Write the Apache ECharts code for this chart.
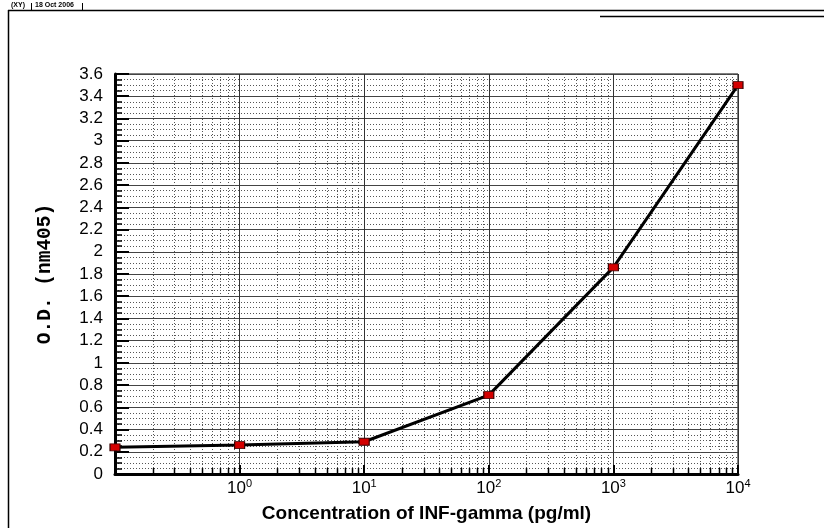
<!DOCTYPE html>
<html><head><meta charset="utf-8">
<script src="https://cdn.jsdelivr.net/npm/echarts@6/dist/echarts.min.js"></script>
<style>html,body{margin:0;padding:0;background:#fff}#c{width:824px;height:528px}</style>
</head><body><div id="c"></div>
<script>
// ---- data ----
const concentrations = [0.1, 1, 10, 100, 1000, 10000];
const odValues = [0.24, 0.26, 0.29, 0.71, 1.86, 3.50];
const yMin = 0, yMax = 3.6, yInterval = 0.2;
const decades = [0.1, 1, 10, 100, 1000, 10000];
const minorMultipliers = [2, 3, 4, 5, 6, 7, 8, 9];
const xTitle = 'Concentration of INF-gamma (pg/ml)';
const yTitle = 'O.D. (nm405)';
const headerCells = ['(XY)', '18 Oct 2006'];

// minor log grid positions (axis structure, not data)
const minorX = [];
decades.slice(0, -1).forEach(d => minorMultipliers.forEach(m => minorX.push([d * m, 0])));

const chart = echarts.init(document.getElementById('c'), null, {renderer: 'canvas'});
const SANS = 'Liberation Sans, Arial, sans-serif';

const option = {
  backgroundColor: '#fff',
  animation: false,
  grid: {left: 115, right: 86, top: 74, bottom: 48, show: true, borderColor: '#000', borderWidth: 1, backgroundColor: 'transparent'},
  xAxis: {
    type: 'log', logBase: 10, min: decades[0], max: decades[decades.length - 1],
    axisLine: {show: true, onZero: false, lineStyle: {color: '#000', width: 3}},
    axisTick: {show: true, inside: true, length: 9, lineStyle: {color: '#000', width: 2}},
    splitLine: {show: true, lineStyle: {color: '#333', width: 1}},
    axisLabel: {
      margin: 4, color: '#000',
      formatter: function (v) {
        const e = Math.round(Math.log10(v));
        if (e < 0) return '';
        return '{b|10}{s|' + e + '}';
      },
      rich: {
        b: {fontFamily: SANS, fontSize: 17, color: '#000'},
        s: {fontFamily: SANS, fontSize: 11, color: '#000', verticalAlign: 'bottom', padding: [0, 0, 9, 0]}
      }
    },
    name: xTitle, nameLocation: 'middle', nameGap: 30,
    nameTextStyle: {fontFamily: SANS, fontWeight: 'bold', fontSize: 19, color: '#000'}
  },
  yAxis: {
    type: 'value', min: yMin, max: yMax, interval: yInterval,
    axisLine: {show: true, onZero: false, lineStyle: {color: '#000', width: 3}},
    axisTick: {show: true, inside: true, length: 14, lineStyle: {color: '#000', width: 2}},
    minorTick: {show: true, splitNumber: 4, length: 7, lineStyle: {color: '#000', width: 1.5}},
    splitLine: {show: true, lineStyle: {color: '#444', width: 1}},
    minorSplitLine: {show: true, lineStyle: {color: '#555', width: 1, type: [1, 2]}},
    axisLabel: {fontFamily: SANS, fontSize: 17, color: '#000', margin: 12},
    name: yTitle, nameLocation: 'middle', nameGap: 60, nameRotate: 90,
    nameTextStyle: {fontFamily: 'Liberation Mono, Courier New, monospace', fontWeight: 'bold', fontSize: 19.5, color: '#000'}
  },
  series: [
    {
      type: 'custom', silent: true, z: 1, clip: false,
      data: minorX,
      encode: {x: 0, y: 1},
      renderItem: function (params, api) {
        const x = api.value(0);
        const top = api.coord([x, yMax]);
        const bot = api.coord([x, yMin]);
        const px = Math.round(top[0]) + 0.5;
        return {
          type: 'group',
          children: [
            {type: 'line', shape: {x1: px, y1: top[1], x2: px, y2: bot[1]}, style: {stroke: '#555', lineWidth: 1, lineDash: [1, 2]}},
            {type: 'line', shape: {x1: px, y1: bot[1], x2: px, y2: bot[1] - 6}, style: {stroke: '#000', lineWidth: 1.5}}
          ]
        };
      }
    },
    {
      type: 'line', z: 10, clip: false,
      data: concentrations.map((c, i) => [c, odValues[i]]),
      symbol: 'rect', symbolSize: [10, 7], showAllSymbol: true,
      itemStyle: {color: '#d40000', borderColor: '#3a0000', borderWidth: 1},
      lineStyle: {color: '#000', width: 3}
    }
  ],
  graphic: [
    {type: 'line', shape: {x1: 8, y1: 10.5, x2: 824, y2: 10.5}, style: {stroke: '#000', lineWidth: 1.5}},
    {type: 'line', shape: {x1: 600, y1: 16.5, x2: 824, y2: 16.5}, style: {stroke: '#000', lineWidth: 1.5}},
    {type: 'line', shape: {x1: 8.5, y1: 10, x2: 8.5, y2: 528}, style: {stroke: '#000', lineWidth: 1.5}},
    {type: 'text', x: 11, y: 2, style: {text: headerCells[0], font: 'bold 7px Liberation Sans', fill: '#000'}},
    {type: 'line', shape: {x1: 31.5, y1: 3, x2: 31.5, y2: 11}, style: {stroke: '#000', lineWidth: 1}},
    {type: 'text', x: 35, y: 2, style: {text: headerCells[1], font: 'bold 7px Liberation Sans', fill: '#000'}},
    {type: 'line', shape: {x1: 82.5, y1: 3, x2: 82.5, y2: 11}, style: {stroke: '#000', lineWidth: 1}}
  ]
};
chart.setOption(option);
</script>
</body></html>
